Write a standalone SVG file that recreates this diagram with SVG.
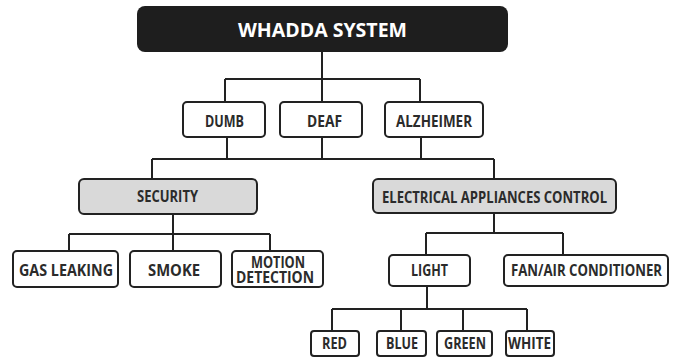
<svg xmlns="http://www.w3.org/2000/svg" width="678" height="359" viewBox="0 0 678 359">
<style>
.box{fill:#ffffff;stroke:#222;stroke-width:2}
.gray{fill:#d9d9d9;stroke:#222;stroke-width:2}
.t{font-family:"Open Sans","Liberation Sans",sans-serif;font-weight:700;font-size:16px;fill:#2b2b2b;text-anchor:middle}
.title{font-family:"Open Sans","Liberation Sans",sans-serif;font-weight:700;font-size:20px;fill:#ffffff;text-anchor:middle}
.c{fill:none;stroke:#222;stroke-width:2}
</style>
<rect width="678" height="359" fill="#ffffff"/>
<g id="connectors">
<path class="c" d="M322 52V79M225 79H420M225 79V102M322 79V102M420 79V102"/>
<path class="c" d="M227 137V159M322 137V159M421 137V159M152 159H494M152 159V179M494 159V179"/>
<path class="c" d="M173 214V234M69 234H270M69 234V251M173 234V251M270 234V251"/>
<path class="c" d="M494 213V233M426 233H563M426 233V255M563 233V255"/>
<path class="c" d="M427 286V309M332 309H527M332 309V331M401 309V331M463 309V331M527 309V331"/>
</g>
<g id="whadda">
<rect x="137" y="6" width="371" height="46" rx="8" fill="#1e1e1e"/>
<text class="title" x="322.5" y="37" textLength="169" lengthAdjust="spacingAndGlyphs">WHADDA SYSTEM</text>
</g>
<g id="dumb">
<rect class="box" x="183" y="102" width="82" height="35" rx="4"/>
<text class="t" x="224.5" y="127" textLength="39" lengthAdjust="spacingAndGlyphs">DUMB</text>
</g>
<g id="deaf">
<rect class="box" x="280" y="102" width="82" height="35" rx="4"/>
<text class="t" x="324.5" y="127" textLength="35" lengthAdjust="spacingAndGlyphs">DEAF</text>
</g>
<g id="alzheimer">
<rect class="box" x="385" y="102" width="98" height="35" rx="4"/>
<text class="t" x="434" y="127" textLength="76" lengthAdjust="spacingAndGlyphs">ALZHEIMER</text>
</g>
<g id="security">
<rect class="gray" x="79" y="179" width="178" height="35" rx="5"/>
<text class="t" x="167.5" y="202" textLength="61" lengthAdjust="spacingAndGlyphs">SECURITY</text>
</g>
<g id="electrical">
<rect class="gray" x="373" y="179" width="243" height="34" rx="5"/>
<text class="t" x="494.5" y="203" textLength="225" lengthAdjust="spacingAndGlyphs">ELECTRICAL APPLIANCES CONTROL</text>
</g>
<g id="gas">
<rect class="box" x="13" y="251" width="105" height="36" rx="4"/>
<text class="t" x="66" y="276" font-size="17" textLength="94" lengthAdjust="spacingAndGlyphs">GAS LEAKING</text>
</g>
<g id="smoke">
<rect class="box" x="130" y="251" width="91" height="36" rx="4"/>
<text class="t" x="174" y="276" font-size="17" textLength="52" lengthAdjust="spacingAndGlyphs">SMOKE</text>
</g>
<g id="motion">
<rect class="box" x="232" y="251" width="91" height="36" rx="4"/>
<text class="t" x="278" y="268" font-size="14" textLength="54" lengthAdjust="spacingAndGlyphs">MOTION</text>
<text class="t" x="275" y="283" font-size="14" textLength="78" lengthAdjust="spacingAndGlyphs">DETECTION</text>
</g>
<g id="light">
<rect class="box" x="389" y="255" width="81" height="31" rx="4"/>
<text class="t" x="429.5" y="276" textLength="37" lengthAdjust="spacingAndGlyphs">LIGHT</text>
</g>
<g id="fan">
<rect class="box" x="504" y="255" width="164" height="31" rx="4"/>
<text class="t" x="586.5" y="276" textLength="151" lengthAdjust="spacingAndGlyphs">FAN/AIR CONDITIONER</text>
</g>
<g id="red">
<rect class="box" x="311" y="331" width="48" height="25" rx="3"/>
<text class="t" x="334.5" y="349" textLength="25" lengthAdjust="spacingAndGlyphs">RED</text>
</g>
<g id="blue">
<rect class="box" x="377" y="331" width="49" height="25" rx="3"/>
<text class="t" x="402" y="349" textLength="32" lengthAdjust="spacingAndGlyphs">BLUE</text>
</g>
<g id="green">
<rect class="box" x="437" y="331" width="55" height="25" rx="3"/>
<text class="t" x="465" y="349" textLength="42" lengthAdjust="spacingAndGlyphs">GREEN</text>
</g>
<g id="white">
<rect class="box" x="506" y="331" width="48" height="25" rx="3" stroke-width="2.5"/>
<text class="t" x="529.5" y="349" textLength="43" lengthAdjust="spacingAndGlyphs">WHITE</text>
</g>
</svg>
